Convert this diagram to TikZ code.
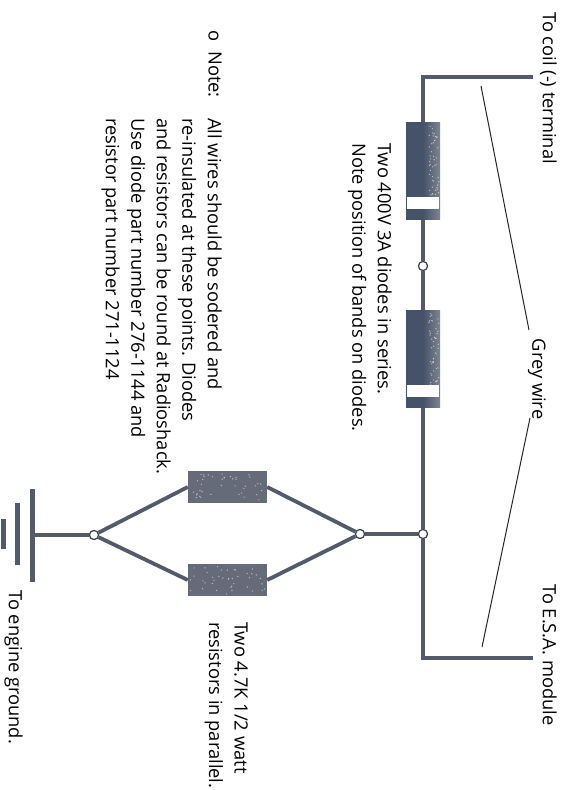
\documentclass[tikz,border=0pt]{standalone}
\usepackage{fontspec}
\setmainfont{Open Sans}
\usetikzlibrary{positioning}
\definecolor{wiregrey}{HTML}{555A6B}
\definecolor{diodedark}{HTML}{46526A}
\definecolor{diodelight}{HTML}{7F848F}
\definecolor{resistgrey}{HTML}{666B79}
\tikzset{
  wire/.style={draw=wiregrey, line width=3.8pt},
  leader/.style={draw=black!85, line width=1pt},
  joint/.style={circle, draw=wiregrey!70!black, fill=white, line width=1.1pt, minimum size=9pt, inner sep=0},
  diodebody/.style={draw=none, left color=diodedark, right color=diodelight, middle color=diodedark, minimum width=34pt, minimum height=97pt, inner sep=0},
  diodeband/.style={fill=white, minimum width=32pt, minimum height=12pt, inner sep=0},
  resistorbody/.style={fill=resistgrey, minimum width=79pt, minimum height=32pt, inner sep=0},
  earthbar/.style={fill=wiregrey, minimum width=5pt, inner sep=0},
  speck/.style={fill=white, opacity=0.55},
  sidetext/.style={rotate=-90, anchor=north west, align=left, inner sep=0, font=\fontsize{18.3pt}{25.5pt}\selectfont},
}
\begin{document}
\begin{tikzpicture}[x=1pt, y=-1pt]
  \useasboundingbox (0,0) rectangle (568,790);

  % Main rail
  \coordinate (coilend) at (533,77);
  \coordinate (coilbend) at (423,77);
  \coordinate (esaend) at (533,658);
  \coordinate (esabend) at (423,658);
  \node[joint] (midjoint) at (423,266) {};
  \node[joint] (railjoint) at (423,534) {};
  \node[joint] (rightjoint) at (360,534) {};
  \node[joint] (leftjoint) at (94,535) {};

  % Diodes
  \node[diodebody] (diodea) at (423,171) {};
  \node[diodebody] (diodeb) at (423,359) {};

  % Resistors
  \node[resistorbody] (resa) at (227.5,487) {};
  \node[resistorbody] (resb) at (227.5,580) {};

  % Print grain on the parts
  \pgfmathsetseed{7}
  \foreach \cx/\cy in {423/171,423/359} {
    \foreach \i in {1,...,45} {
      \fill[speck] ({\cx+6+10*rnd},{\cy-46+72*rnd}) circle (0.7pt);
    }
  }
  \foreach \cy in {487,580} {
    \foreach \i in {1,...,40} {
      \fill[speck] ({190+75*rnd},{\cy-14+28*rnd}) circle (0.7pt);
    }
  }

  % Ground bars
  \node[earthbar, minimum height=93pt] (eartha) at (32,535) {};
  \node[earthbar, minimum height=62pt] (earthb) at (17,534) {};
  \node[earthbar, minimum height=30pt] (earthc) at (3,534) {};

  % Wires
  \draw[wire] (coilend) -- (coilbend) -- (diodea.north);
  \draw[wire] (diodea.south) -- (midjoint) -- (diodeb.north);
  \draw[wire] (diodeb.south) -- (railjoint) -- (esabend) -- (esaend);
  \draw[wire] (railjoint) -- (rightjoint);
  \draw[wire] (rightjoint) -- (resa.east);
  \draw[wire] (rightjoint) -- (resb.east);
  \draw[wire] (resa.west) -- (leftjoint);
  \draw[wire] (resb.west) -- (leftjoint);
  \draw[wire] (leftjoint) -- (eartha);

  % Joints on top of the wires
  \foreach \j in {midjoint,railjoint,rightjoint,leftjoint} {
    \node[joint] at (\j) {};
  }

  % Bands
  \node[diodeband] (banda) at (423,202.5) {};
  \node[diodeband] (bandb) at (423,391) {};

  % Grey wire label and leaders
  \node[sidetext, anchor=north] (greylabel) at (546,379) {Grey wire};
  \coordinate (coilpoint) at (481,86);
  \coordinate (esapoint) at (482,647);
  \draw[leader] (coilpoint) -- (529,330);
  \draw[leader] (esapoint) -- (530,418);

  % Labels
  \node[sidetext] (coillabel) at (557,12) {To coil (-) terminal};
  \node[sidetext] (esalabel) at (557,584) {To E.S.A. module};
  \node[sidetext] (diodelabel) at (392,143) {Two 400V 3A diodes in series.\\Note position of bands on diodes.};
  \node[sidetext] (notemark) at (222,30) {o\hspace{0.55em}Note:};
  \node[sidetext] (notelabel) at (222,118) {All wires should be sodered and\\re-insulated at these points. Diodes\\and resistors can be round at Radioshack.\\Use diode part number 276-1144 and\\resistor part number 271-1124};
  \node[sidetext] (reslabel) at (248,622) {Two 4.7K 1/2 watt\\resistors in parallel.};
  \node[sidetext] (groundlabel) at (23,590) {To engine ground.};
\end{tikzpicture}
\end{document}
